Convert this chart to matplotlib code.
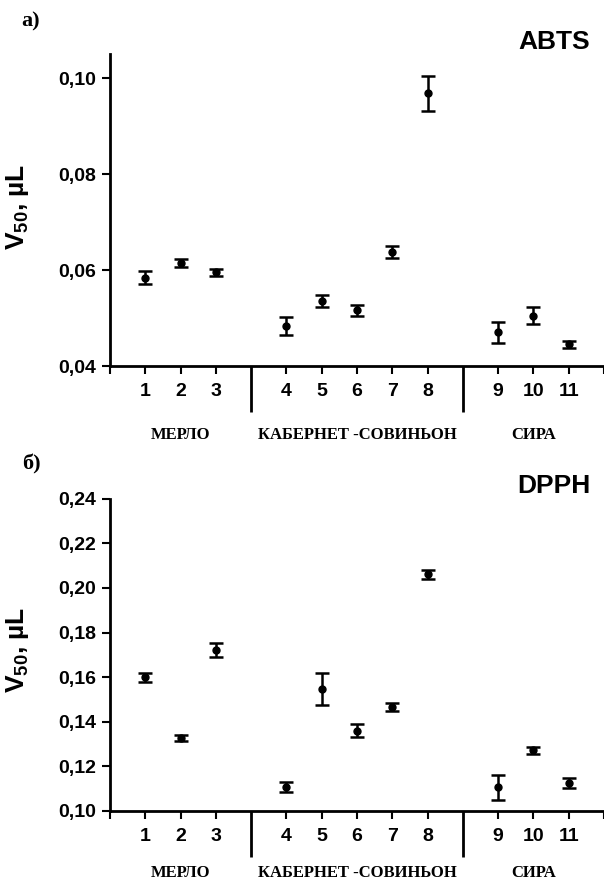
import numpy as np
import matplotlib
matplotlib.use("Agg")
import matplotlib.pyplot as plt
from matplotlib.transforms import blended_transform_factory

plt.rcParams.update({"font.family": "Liberation Sans", "font.weight": "bold",
                     "mathtext.fontset": "custom", "mathtext.bf": "Liberation Sans:bold",
                     "mathtext.rm": "Liberation Sans:bold"})

# wine groups and sample numbers
groups = ["МЕРЛО", "КАБЕРНЕТ -СОВИНЬОН", "СИРА"]
group_sizes = [3, 5, 3]
samples = ["1", "2", "3", "4", "5", "6", "7", "8", "9", "10", "11"]

abts_mean = [0.0584, 0.0615, 0.0595, 0.0484, 0.0535, 0.0516, 0.0638, 0.0968, 0.0470, 0.0505, 0.0445]
abts_err = [0.0013, 0.0008, 0.0007, 0.0019, 0.0013, 0.0012, 0.0012, 0.0037, 0.0021, 0.0018, 0.0007]
dpph_mean = [0.1600, 0.1326, 0.1722, 0.1106, 0.1546, 0.1359, 0.1466, 0.2061, 0.1106, 0.1272, 0.1127]
dpph_err = [0.0021, 0.0013, 0.0031, 0.0023, 0.0072, 0.0029, 0.0017, 0.0019, 0.0057, 0.0016, 0.0023]

abts_ticks = [0.04, 0.06, 0.08, 0.10]
dpph_ticks = [0.10, 0.12, 0.14, 0.16, 0.18, 0.20, 0.22, 0.24]

# x layout: one empty slot between groups
xpos, seps, centers = [], [], []
start = 1
for n in group_sizes:
    xs = list(range(start, start + n))
    xpos += xs
    centers.append(np.mean(xs))
    seps.append(start + n)
    start += n + 1
seps = seps[:-1]
xmax = start - 1
ticks_major = [0] + xpos + [xmax]
tick_labels = [""] + samples + [""]

fig = plt.figure(figsize=(6.04, 8.82), dpi=100)


def panel(rect, mean, err, yticks, ylim, name, letter, name_y, letter_y, cat_y, ylab_y):
    ax = fig.add_axes(rect)
    ax.errorbar(xpos, mean, yerr=err, fmt="o", color="black", markersize=5,
                elinewidth=1.8, capsize=5, capthick=1.8)
    ax.set_xlim(0, xmax)
    ax.set_ylim(*ylim)
    ax.set_yticks(yticks)
    ax.set_yticklabels([f"{t:.2f}".replace(".", ",") for t in yticks])
    ax.set_xticks(ticks_major)
    ax.set_xticklabels(tick_labels)
    ax.set_xticks(seps, minor=True)
    for s in ("top", "right"):
        ax.spines[s].set_visible(False)
    for s in ("left", "bottom"):
        ax.spines[s].set_linewidth(2)
    ax.tick_params(axis="both", which="major", length=6, width=1.5, labelsize=14, direction="out")
    ax.tick_params(axis="x", which="major", pad=6)
    ax.tick_params(axis="y", which="major", pad=4)
    ax.tick_params(axis="x", which="minor", length=33, width=2, direction="out")
    for lab in ax.get_xticklabels() + ax.get_yticklabels():
        lab.set_fontweight("bold")
    tr = blended_transform_factory(ax.transData, fig.transFigure)
    for g, c in zip(groups, centers):
        ax.text(c, cat_y, g, transform=tr, ha="center", va="baseline",
                family="Liberation Serif", fontweight="bold", fontsize=12)
    fig.text(0.977, name_y, name, ha="right", va="baseline", fontsize=19, fontweight="bold")
    fig.text(0.036, letter_y, letter, ha="left", va="baseline", family="Liberation Serif",
             fontsize=16, fontweight="bold")
    fig.text(0.029, ylab_y, r"V$_{\mathbf{50}}$, µL", rotation=90, ha="center", va="center",
             fontsize=19, fontweight="bold")
    return ax


panel([0.1821, 0.585, 0.818, 0.3537], abts_mean, abts_err, abts_ticks, (0.04, 0.105),
      "ABTS", "а)", 0.944, 0.970, 0.502, 0.766)
panel([0.1821, 0.0805, 0.818, 0.354], dpph_mean, dpph_err, dpph_ticks, (0.10, 0.24),
      "DPPH", "б)", 0.441, 0.468, 0.006, 0.263)

fig.savefig("out.png", dpi=100)
